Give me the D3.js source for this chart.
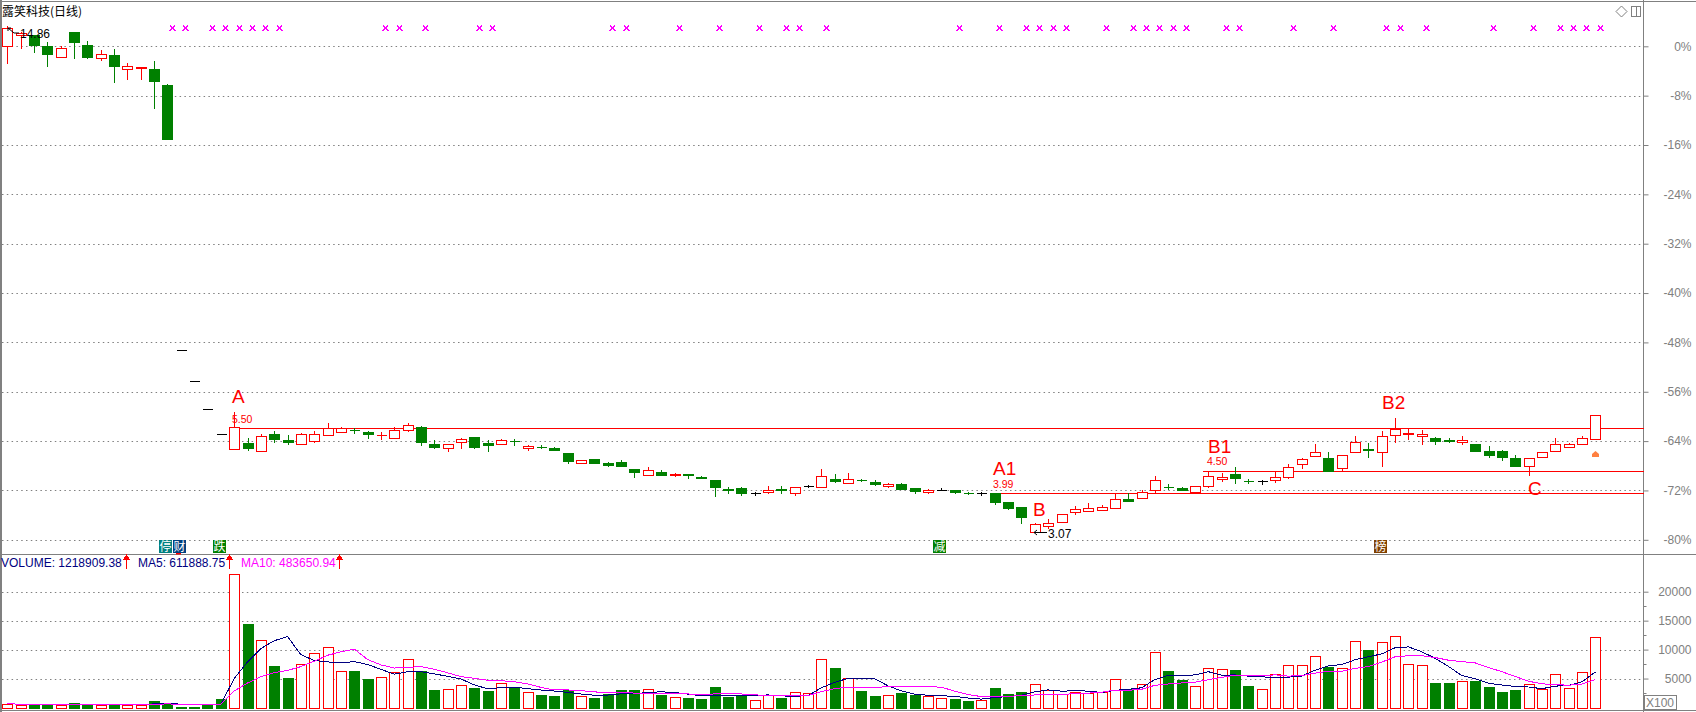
<!DOCTYPE html>
<html>
<head>
<meta charset="utf-8">
<title>露笑科技(日线)</title>
<script src="https://cdnjs.cloudflare.com/ajax/libs/d3/7.8.5/d3.min.js"></script>
<style>
  html, body { margin: 0; padding: 0; background: #fff; overflow: hidden; }
  text { font-family: "Liberation Sans", Arial, sans-serif; }
  .cjk { font-family: "Noto Sans CJK SC", sans-serif; }
  .axis path { display: none; }
  .axis text { fill: #808080; font-size: 12px; }
  .axis line { stroke: #808080; }
</style>
</head>
<body>
<div id="chart"></div>
<script>
// --- Data (prices in yuan, volume in lots of 100) ---
const basePrice = 14.39;
const open = [14.39,14.65,14.66,14.40,14.15,14.73,14.43,14.11,14.19,13.86,13.88,13.87,13.49,7.30,6.58,5.93,5.34,4.99,5.13,4.94,
  5.35,5.21,5.11,5.19,5.32,5.39,5.44,5.40,5.32,5.26,5.44,5.51,5.11,5.03,5.15,5.28,5.14,5.12,5.19,5.02,
  5.05,5.02,4.91,4.66,4.77,4.68,4.70,4.53,4.38,4.46,4.38,4.42,4.34,4.28,4.07,4.09,3.97,3.99,4.06,3.96,
  4.13,4.12,4.30,4.21,4.28,4.23,4.14,4.18,4.09,4.00,4.04,4.03,3.97,3.97,3.96,3.76,3.64,3.07,3.20,3.29,
  3.52,3.56,3.58,3.61,3.83,3.85,4.04,4.12,4.09,4.00,4.13,4.29,4.42,4.25,4.24,4.27,4.35,4.64,4.83,4.79,
  4.56,4.92,4.99,4.92,5.32,5.35,5.30,5.26,5.20,5.16,5.12,4.95,4.95,4.79,4.60,4.81,4.95,5.04,5.11,5.23];
const high = [14.86,14.72,14.66,14.48,14.39,14.73,14.52,14.30,14.33,14.00,13.90,14.05,13.51,7.30,6.58,5.93,5.34,5.86,5.25,5.35,
  5.42,5.33,5.37,5.42,5.61,5.50,5.48,5.42,5.40,5.51,5.61,5.54,5.21,5.12,5.26,5.28,5.21,5.23,5.22,5.09,
  5.09,5.05,4.91,4.74,4.77,4.70,4.74,4.53,4.58,4.51,4.44,4.42,4.37,4.28,4.11,4.11,3.99,4.13,4.13,4.11,
  4.16,4.53,4.42,4.44,4.30,4.28,4.21,4.20,4.09,4.07,4.08,4.04,4.00,4.00,3.96,3.76,3.64,3.27,3.36,3.48,
  3.67,3.73,3.69,3.97,3.96,4.03,4.37,4.18,4.12,4.13,4.47,4.43,4.57,4.29,4.28,4.47,4.65,4.79,5.12,4.93,
  4.85,5.30,5.14,5.42,5.72,5.47,5.44,5.28,5.25,5.30,5.12,5.07,4.98,4.86,4.78,4.92,5.26,5.13,5.30,5.79];
const low = [14.01,14.36,14.25,13.94,14.15,14.11,14.11,14.08,13.55,13.62,13.62,12.96,12.22,7.30,6.58,5.93,5.34,4.99,4.98,4.94,
  5.15,5.12,5.11,5.17,5.32,5.39,5.38,5.26,5.22,5.26,5.41,5.08,5.01,4.96,5.03,5.03,4.96,5.12,5.10,4.98,
  5.01,4.98,4.66,4.66,4.68,4.59,4.59,4.35,4.38,4.40,4.37,4.33,4.31,3.91,3.98,3.93,3.93,3.96,3.98,3.93,
  4.10,4.10,4.23,4.21,4.24,4.16,4.11,4.07,3.98,3.97,4.04,3.97,3.95,3.93,3.72,3.60,3.28,3.07,3.16,3.29,
  3.49,3.55,3.57,3.61,3.79,3.85,3.97,4.06,4.05,4.00,4.10,4.25,4.20,4.20,4.18,4.23,4.31,4.56,4.83,4.49,
  4.51,4.92,4.82,4.59,5.15,5.22,5.12,5.12,5.15,5.12,4.94,4.80,4.73,4.59,4.40,4.81,4.95,5.04,5.11,5.23];
const close = [14.81,14.70,14.43,14.21,14.35,14.48,14.15,14.21,13.94,13.93,13.90,13.57,12.22,7.30,6.58,5.93,5.34,5.50,5.03,5.30,
  5.24,5.15,5.34,5.34,5.48,5.48,5.43,5.35,5.33,5.44,5.55,5.17,5.05,5.11,5.23,5.05,5.08,5.20,5.18,5.06,
  5.04,4.98,4.72,4.74,4.68,4.63,4.60,4.45,4.50,4.40,4.42,4.38,4.33,4.10,4.03,3.98,3.97,4.04,4.05,4.11,
  4.13,4.36,4.25,4.29,4.27,4.18,4.18,4.07,4.02,4.04,4.04,3.99,3.96,3.97,3.77,3.63,3.42,3.24,3.27,3.48,
  3.59,3.62,3.64,3.83,3.79,3.99,4.27,4.11,4.05,4.13,4.36,4.34,4.31,4.24,4.24,4.34,4.57,4.76,4.92,4.49,
  4.85,5.16,4.98,5.30,5.46,5.36,5.34,5.19,5.19,5.20,4.96,4.85,4.82,4.61,4.78,4.92,5.11,5.11,5.25,5.79];
const volume = [690,400,450,400,400,800,600,400,650,450,450,1150,800,60,60,350,1500,23000,14400,11600,
  7150,5070,7440,9340,10380,6230,6280,4900,5190,6160,8400,6280,3000,3110,3800,3340,2820,4150,3400,2600,
  2130,1960,3000,1900,1610,2300,3000,3000,3110,2130,1730,1610,1440,3510,1780,2130,1380,2080,1610,2600,
  2420,8300,6800,5020,2820,1960,2080,2470,2130,1960,1560,1440,1090,1210,3340,2300,2650,3980,2940,2250,
  2600,2420,2700,4840,3110,3980,9520,6280,4720,3630,6750,6570,6450,3690,3110,5710,7270,7270,8820,6970,
  6750,11420,9910,11250,12280,7440,7270,4200,4200,4500,4550,3510,2650,3000,3980,3110,5710,3290,6060,12189];
const ma5 = [690,545,513,485,468,490,530,520,570,580,510,620,700,582,504,484,554,4994,7862,10170,
  11530,12244,9132,8120,7876,7692,7934,7426,6596,5752,6186,6186,5806,5390,4918,3906,3214,3444,3502,3262,
  3020,2848,2618,2318,2120,2154,2362,2362,2604,2708,2594,2316,2004,2084,2014,2094,2048,2176,1996,1960,
  2018,3402,4346,5028,5072,4980,3736,2870,2292,2120,2040,1912,1636,1452,1728,1876,2118,2696,3042,2824,
  2884,2838,2582,2962,3134,3410,4830,5546,5522,5626,6180,5590,5624,5418,5314,5106,5246,5410,6436,7208,
  7416,8246,8774,9260,10322,10460,9630,8488,7078,5522,4944,4192,3882,3642,3538,3250,3690,3818,4430,6119];
const ma10 = [690,545,513,485,468,523,534,518,532,524,500,575,610,576,542,497,587,2847,4222,5337,
  6007,6399,7063,7991,9023,9611,10089,8279,7358,6814,6939,7060,6616,5993,5335,5046,4700,4625,4446,4090,
  3463,3031,3031,2910,2691,2587,2605,2490,2461,2414,2374,2339,2183,2344,2361,2344,2182,2090,2040,1987,
  2056,2725,3261,3512,3516,3499,3569,3608,3660,3596,3510,2824,2253,1872,1924,1958,2015,2166,2247,2276,
  2380,2478,2639,3002,2979,3147,3834,4064,4242,4380,4795,5210,5585,5470,5470,5643,5418,5517,5927,6261,
  6261,6746,7092,7848,8765,8938,8938,8631,8169,7922,7702,6911,6185,5360,4530,4097,3941,3850,4036,4837];

// bars whose volume is green although the candle is a flat dash
const limitBars = [13, 14, 15, 16];
// small pink crosses along the top
const signalBars = [12,13,15,16,17,18,19,20,28,29,31,35,36,45,46,50,53,56,58,59,61,71,74,76,77,78,79,82,84,85,86,87,88,91,92,96,99,103,104,106,111,114,116,117,118,119];
// event tiles at the foot of the price panel
const tileText = ["停", "财", "跌", "减", "榜"];
const tileBars = [12, 13, 16, 70, 103];
const tileColors = ["#008080", "#004080", "#008000", "#008000", "#804000"];
// support / resistance lines: start bar and price
const levelPrices = [5.50, 3.99, 4.50];
const levelBars = [17, 74, 90];
const pctTicks = [0, -8, -16, -24, -32, -40, -48, -56, -64, -72, -80];
const volTicks = [5000, 10000, 15000, 20000];
const volMinorTicks = [2500, 7500, 12500, 17500];

// --- Dimensions ---
const width = 1696;
const height = 712;
const axisX = 1643.5;

const svg = d3.select("#chart").append("svg")
  .attr("width", width)
  .attr("height", height)
  .style("display", "block");

// --- Scales ---
const x = d3.scaleLinear().domain([0, 119]).range([7.3, 1595.3]);
const y = d3.scaleLinear().domain([basePrice, basePrice * 0.2]).range([46.3, 539.8]);
const yVol = d3.scaleLinear().domain([0, 20000]).range([707.5, 591.7]);
const px = v => Math.round(v) + 0.5;
const up = "#ff0000", down = "#008000", flat = "#000000";
const candleColor = i => close[i] > open[i] ? up : close[i] < open[i] ? down : flat;

// --- Grid ---
const grid = svg.append("g").attr("stroke", "#808080").attr("stroke-dasharray", "1.5 3.3");
grid.selectAll(".p").data(pctTicks).join("line")
  .attr("x1", 2).attr("x2", axisX - 3)
  .attr("y1", d => px(y(basePrice * (1 + d / 100)))).attr("y2", d => px(y(basePrice * (1 + d / 100))));
grid.selectAll(".v").data(volTicks).join("line")
  .attr("x1", 2).attr("x2", axisX - 3)
  .attr("y1", d => px(yVol(d))).attr("y2", d => px(yVol(d)));

// --- Frame ---
const frame = svg.append("g").attr("stroke", "#808080").attr("shape-rendering", "crispEdges");
[[0.5, 1.5, width, 1.5], [0.5, 554.5, width, 554.5], [0.5, 710.5, width, 710.5], [0.5, 0, 0.5, height], [1.5, 0, 1.5, height], [axisX, 0, axisX, height]]
  .forEach(l => frame.append("line").attr("x1", l[0]).attr("y1", l[1]).attr("x2", l[2]).attr("y2", l[3]));

// --- Axes ---
const priceAxis = d3.axisRight(y)
  .tickValues(pctTicks.map(d => basePrice * (1 + d / 100)))
  .tickFormat(d => `${Math.round((d / basePrice - 1) * 100)}%`)
  .tickSize(5).tickPadding(8);
svg.append("g").attr("class", "axis").attr("transform", `translate(${axisX},0)`).call(priceAxis)
  .selectAll("text").attr("text-anchor", "end").attr("x", 48);

const volAxis = d3.axisRight(yVol).tickValues(volTicks).tickFormat(d3.format("d")).tickSize(5);
svg.append("g").attr("class", "axis").attr("transform", `translate(${axisX},0)`).call(volAxis)
  .selectAll("text").attr("text-anchor", "end").attr("x", 48);
svg.append("g").selectAll("line").data(volMinorTicks).join("line")
  .attr("x1", axisX).attr("x2", axisX + 3)
  .attr("y1", d => px(yVol(d))).attr("y2", d => px(yVol(d)))
  .attr("stroke", "#808080");

// --- Level lines ---
svg.append("g").selectAll("line").data(levelPrices).join("line")
  .attr("x1", (d, i) => x(levelBars[i]) - 5).attr("x2", axisX)
  .attr("y1", d => px(y(d)) + 1).attr("y2", d => px(y(d)) + 1)
  .attr("stroke", up).attr("shape-rendering", "crispEdges");

// --- Candles ---
const candles = svg.append("g").attr("shape-rendering", "crispEdges")
  .selectAll("g").data(d3.range(open.length)).join("g");
candles.append("line")
  .attr("x1", i => px(x(i))).attr("x2", i => px(x(i)))
  .attr("y1", i => Math.round(y(high[i]))).attr("y2", i => Math.round(y(low[i])) + 1)
  .attr("stroke", candleColor);
// body as a closed path so a flat open == close still draws its dash
candles.append("path")
  .attr("d", i => {
    const left = Math.round(x(i)) - 4.5;
    const top = px(y(Math.max(open[i], close[i])));
    const h = Math.round(y(Math.min(open[i], close[i]))) - Math.round(y(Math.max(open[i], close[i])));
    return `M${left},${top}h10v${h}h-10Z`;
  })
  .attr("fill", i => close[i] > open[i] ? "#fff" : candleColor(i))
  .attr("stroke", candleColor);

// --- Volume bars ---
const volRed = i => close[i] > open[i] || (close[i] === open[i] && !limitBars.includes(i));
svg.append("g").attr("shape-rendering", "crispEdges")
  .selectAll("rect").data(d3.range(volume.length)).join("rect")
  .attr("x", i => Math.round(x(i)) - 4.5)
  .attr("y", i => px(yVol(volume[i])))
  .attr("width", 10)
  .attr("height", i => Math.max(Math.round(yVol(0)) - Math.round(yVol(volume[i])), 1))
  .attr("fill", i => volRed(i) ? "#fff" : down)
  .attr("stroke", i => volRed(i) ? up : down);

// --- MA lines ---
const maLine = d3.line().x((d, i) => x(i)).y(d => yVol(d));
[[ma5, "#000080"], [ma10, "#ff00ff"]].forEach(([series, color]) => {
  svg.append("path").datum(series)
    .attr("d", maLine)
    .attr("fill", "none")
    .attr("stroke", color)
    .attr("stroke-width", 1)
    .attr("shape-rendering", "crispEdges");
});

// --- Signals ---
svg.append("g").selectAll("path").data(signalBars).join("path")
  .attr("d", d3.symbol(d3.symbolX, 20))
  .attr("transform", d => `translate(${Math.round(x(d) + 4.5) + 0.5},28.5)`)
  .attr("stroke", "#ff00ff")
  .attr("stroke-width", 1.4)
  .attr("fill", "#ff00ff")
  .attr("shape-rendering", "crispEdges");

// --- Tiles ---
const tiles = svg.append("g").selectAll("g").data(tileBars).join("g")
  .attr("transform", d => `translate(${Math.round(x(d) - 8)},540)`);
tiles.append("rect").attr("width", 13).attr("height", 13).attr("fill", (d, i) => tileColors[i]);
tiles.append("text").attr("class", "cjk")
  .attr("x", 6.5).attr("y", 11).attr("text-anchor", "middle")
  .attr("font-size", 12).attr("fill", "#fff")
  .text((d, i) => tileText[i]);
svg.append("rect").attr("x", 176).attr("y", 553).attr("width", 5).attr("height", 1.5).attr("fill", up);

// --- Labels ---
svg.append("text").attr("class", "cjk").attr("x", 2).attr("y", 16).attr("font-size", 12).attr("fill", "#000").text("露笑科技(日线)");

const bigLabels = [["A", 232, 403], ["A1", 993, 475], ["B", 1033, 516], ["B1", 1208, 452.5], ["B2", 1382, 409], ["C", 1528, 495]];
svg.append("g").selectAll("text").data(bigLabels).join("text")
  .attr("x", d => d[1]).attr("y", d => d[2])
  .attr("font-size", 19).attr("fill", up)
  .text(d => d[0]);
const smallLabels = [["5.50", 232, 422.5], ["3.99", 993, 487.5], ["4.50", 1207, 465]];
svg.append("g").selectAll("text").data(smallLabels).join("text")
  .attr("x", d => d[1]).attr("y", d => d[2])
  .attr("font-size", 10.5).attr("fill", up)
  .text(d => d[0]);

// high / low callouts
svg.append("text").attr("x", 20).attr("y", 38).attr("font-size", 12).attr("fill", "#000").text("14.86");
svg.append("path").attr("d", "M8,28 L14,33 L19,33 M8,28 L8,31 M8,28 L11,28").attr("fill", "none").attr("stroke", "#000");
svg.append("text").attr("x", 1048).attr("y", 537.5).attr("font-size", 12).attr("fill", "#000").text("3.07");
svg.append("path").attr("d", "M1034,532.5 L1047,532.5 M1034,532.5 L1037,530 M1034,532.5 L1037,535").attr("fill", "none").attr("stroke", "#000");

// volume legend
const legend = [["VOLUME: 1218909.38", 1, "#000080", 126.5], ["MA5: 611888.75", 138, "#000080", 229.5], ["MA10: 483650.94", 241, "#ff00ff", 339.5]];
const legendG = svg.append("g").selectAll("g").data(legend).join("g");
legendG.append("text").attr("x", d => d[1]).attr("y", 566.5).attr("font-size", 12).attr("fill", d => d[2]).text(d => d[0]);
legendG.append("path")
  .attr("d", d => `M${d[3]},555 V569 M${d[3] - 2.5},559 L${d[3]},555 L${d[3] + 2.5},559 Z`)
  .attr("stroke", up).attr("fill", up).attr("shape-rendering", "crispEdges");

// orange forecast marker under the last candle
svg.append("path").attr("d", "M1595.5,451 L1599,454 L1599,457 L1592,457 L1592,454 Z").attr("fill", "#ff8040");

// --- Corner widgets ---
svg.append("path").attr("d", "M1621.5,6 L1627,11.5 L1621.5,17 L1616,11.5 Z").attr("fill", "none").attr("stroke", "#808080");
svg.append("rect").attr("x", 1631.5).attr("y", 6.5).attr("width", 9).attr("height", 10).attr("fill", "none").attr("stroke", "#808080").attr("shape-rendering", "crispEdges");
svg.append("line").attr("x1", 1636.5).attr("x2", 1636.5).attr("y1", 6.5).attr("y2", 16.5).attr("stroke", "#808080").attr("shape-rendering", "crispEdges");

svg.append("rect").attr("x", 1644.5).attr("y", 695.5).attr("width", 32).attr("height", 14).attr("fill", "#fff").attr("stroke", "#808080").attr("shape-rendering", "crispEdges");
svg.append("text").attr("x", 1646).attr("y", 707).attr("font-size", 12).attr("fill", "#808080").text("X100");
</script>
</body>
</html>
